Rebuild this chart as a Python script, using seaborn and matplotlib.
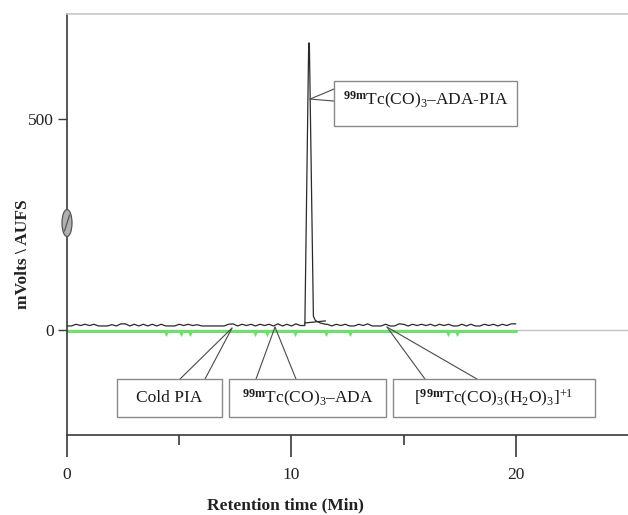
import numpy as np
import pandas as pd
import matplotlib
matplotlib.use("Agg")
import matplotlib.pyplot as plt
from matplotlib.patches import Rectangle, Ellipse
from matplotlib.lines import Line2D
import seaborn as sns

# ---------------- data ----------------
trace_time = [
    0.0, 0.2, 0.4, 0.6, 0.8, 1.0, 1.2, 1.4, 1.6, 1.8,
    2.0, 2.2, 2.4, 2.6, 2.8, 3.0, 3.2, 3.4, 3.6, 3.8,
    4.0, 4.2, 4.4, 4.6, 4.8, 5.0, 5.2, 5.4, 5.6, 5.8,
    6.0, 6.2, 6.4, 6.6, 6.8, 7.0, 7.2, 7.4, 7.6, 7.8,
    8.0, 8.2, 8.4, 8.6, 8.8, 9.0, 9.2, 9.4, 9.6, 9.8,
    10.0, 10.2, 10.4,
    10.6, 10.77, 10.80, 10.98, 11.07, 11.29, 11.52,
    11.6, 11.8, 12.0, 12.2, 12.4, 12.6, 12.8, 13.0, 13.2, 13.4,
    13.6, 13.8, 14.0, 14.2, 14.4, 14.6, 14.8, 15.0, 15.2, 15.4,
    15.6, 15.8, 16.0, 16.2, 16.4, 16.6, 16.8, 17.0, 17.2, 17.4,
    17.6, 17.8, 18.0, 18.2, 18.4, 18.6, 18.8, 19.0, 19.2, 19.4,
    19.6, 19.8, 20.0,
]
trace_mv = [
    9, 9, 13, 10, 13, 10, 13, 9, 9, 9,
    12, 9, 14, 14, 9, 13, 9, 13, 9, 13,
    9, 13, 9, 9, 9, 13, 10, 13, 10, 12,
    9, 9, 9, 9, 9, 9, 13, 14, 9, 13,
    10, 13, 9, 13, 10, 13, 9, 14, 9, 13,
    9, 14, 10,
    10, 681, 681, 32, 22, 16, 13,
    13, 9, 13, 10, 13, 9, 9, 13, 10, 14,
    9, 9, 9, 13, 9, 9, 14, 13, 9, 13,
    10, 13, 10, 13, 9, 13, 10, 13, 9, 9,
    13, 9, 13, 9, 9, 13, 10, 13, 9, 13,
    10, 14, 14,
]
# integration baseline drawn under the main peak
peak_base_time = [10.58, 11.52]
peak_base_mv = [16, 21]

# green (blank / UV) trace
green_time = [0.0, 20.0]
green_mv = [-3, -3]
green_dip_time = [4.42, 5.09, 5.49, 8.39, 8.93, 10.18, 11.52, 12.63, 17.0, 17.37]
green_dip_mv = [-9, -9, -9, -9, -9, -9, -9, -9, -9, -9]

x_ticks_major = [0, 10, 20]
x_ticks_minor = [5, 15]
y_ticks = [0, 500]

labels = {
    "pia": r"$^{\mathbf{99m}}$Tc(CO)$_3$–ADA-PIA",
    "cold": "Cold PIA",
    "ada": r"$^{\mathbf{99m}}$Tc(CO)$_3$–ADA",
    "h2o": r"[$^{\mathbf{99m}}$Tc(CO)$_3$(H$_2$O)$_3$]$^{+1}$",
}

# ---------------- style ----------------
sns.set_theme(style="ticks")
plt.rcParams["font.family"] = ["Liberation Serif", "DejaVu Serif"]
plt.rcParams["mathtext.fontset"] = "custom"
plt.rcParams["mathtext.rm"] = "Liberation Serif"
plt.rcParams["mathtext.it"] = "Liberation Serif:italic"
plt.rcParams["mathtext.bf"] = "Liberation Serif:bold"

fig = plt.figure(figsize=(6.28, 5.15), dpi=100)
ax = fig.add_axes([67 / 628, 80 / 515, 561 / 628, 421 / 515])

ax.set_xlim(0, 25)
ax.set_ylim(-250, 750)

# zero reference line
ax.axhline(0, color="#c4c4c4", lw=1.0, zorder=1)

df_g = pd.DataFrame({"t": green_time, "mv": green_mv})
sns.lineplot(data=df_g, x="t", y="mv", ax=ax, color="#6ee06e", lw=2.2,
             sort=False, estimator=None, zorder=2)
df_gd = pd.DataFrame({"t": green_dip_time, "mv": green_dip_mv})
sns.scatterplot(data=df_gd, x="t", y="mv", ax=ax, color="#6ee06e", marker="v",
                s=14, linewidth=0, zorder=2)

df_t = pd.DataFrame({"t": trace_time, "mv": trace_mv})
sns.lineplot(data=df_t, x="t", y="mv", ax=ax, color="#2a2a2a", lw=0.9,
             sort=False, estimator=None, zorder=3)
df_b = pd.DataFrame({"t": peak_base_time, "mv": peak_base_mv})
sns.lineplot(data=df_b, x="t", y="mv", ax=ax, color="#2a2a2a", lw=0.9,
             sort=False, estimator=None, zorder=3)

# spines
ax.spines["right"].set_visible(False)
ax.spines["top"].set_color("#c8c8c8")
ax.spines["top"].set_linewidth(1.2)
ax.spines["left"].set_color("#3a3a3a")
ax.spines["left"].set_linewidth(1.2)
ax.spines["bottom"].set_color("#3a3a3a")
ax.spines["bottom"].set_linewidth(1.2)

ax.set_xticks(x_ticks_major)
ax.set_xticks(x_ticks_minor, minor=True)
ax.set_yticks(y_ticks)
ax.tick_params(axis="x", which="major", direction="out", length=16, width=1.2,
               color="#3a3a3a", pad=7, labelsize=12.5)
ax.tick_params(axis="x", which="minor", direction="out", length=7, width=1.2,
               color="#3a3a3a")
ax.tick_params(axis="y", which="major", direction="out", length=6.5, width=1.0,
               color="#3a3a3a", pad=3, labelsize=12.5)
for lab in ax.get_xticklabels() + ax.get_yticklabels():
    lab.set_color("#222222")

ax.set_xlabel("Retention time (Min)", fontsize=12.5, fontweight="bold", color="#222222")
ax.set_ylabel("mVolts \\ AUFS", fontsize=12.5, fontweight="bold", color="#222222")
ax.xaxis.set_label_coords(0.39, -0.148)
ax.yaxis.set_label_coords(-0.064, 0.43)

# axis-break symbol on the y axis
fig.patches.append(Ellipse((67 / 628, 1 - 223 / 515), 10 / 628, 27 / 515,
                           transform=fig.transFigure, facecolor="#b0b0b0",
                           edgecolor="#555555", lw=0.9, zorder=5))
fig.lines.append(Line2D([64.5 / 628, 69.5 / 628], [1 - 231 / 515, 1 - 215 / 515],
                        transform=fig.transFigure, color="#555555", lw=0.9, zorder=6))

# ---------------- callout boxes ----------------
def px2data(px, py):
    return (px - 67) / 22.44, (330.7 - py) / 0.421

def box(x0, y0, x1, y1, text, ty=None):
    (dx0, dy0), (dx1, dy1) = px2data(x0, y1), px2data(x1, y0)
    ax.add_patch(Rectangle((dx0, dy0), dx1 - dx0, dy1 - dy0, facecolor="white",
                           edgecolor="#8a8a8a", lw=1.0, zorder=6, clip_on=False))
    cy = (dy0 + dy1) / 2 if ty is None else px2data(0, ty)[1]
    ax.text((dx0 + dx1) / 2, cy, text, ha="center", va="center", fontsize=12.5,
            color="#1a1a1a", zorder=7)

def leader(p_from, p_to):
    a = px2data(*p_from)
    b = px2data(*p_to)
    ax.plot([a[0], b[0]], [a[1], b[1]], color="#4a4a4a", lw=0.8, zorder=5,
            clip_on=False)

# main peak
leader((310, 100), (334, 90))
leader((310, 100), (334, 102))
box(334, 82, 517, 127, labels["pia"], ty=101)

# lower three
leader((180, 380), (232, 329))
leader((205, 380), (232, 329))
box(117, 380, 222, 418, labels["cold"])

leader((256, 380), (275, 328))
leader((296, 380), (275, 328))
box(229, 380, 386, 418, labels["ada"])

leader((425, 380), (387, 328))
leader((477, 380), (387, 328))
box(393, 380, 595, 418, labels["h2o"])

fig.savefig("out.png", dpi=100)
